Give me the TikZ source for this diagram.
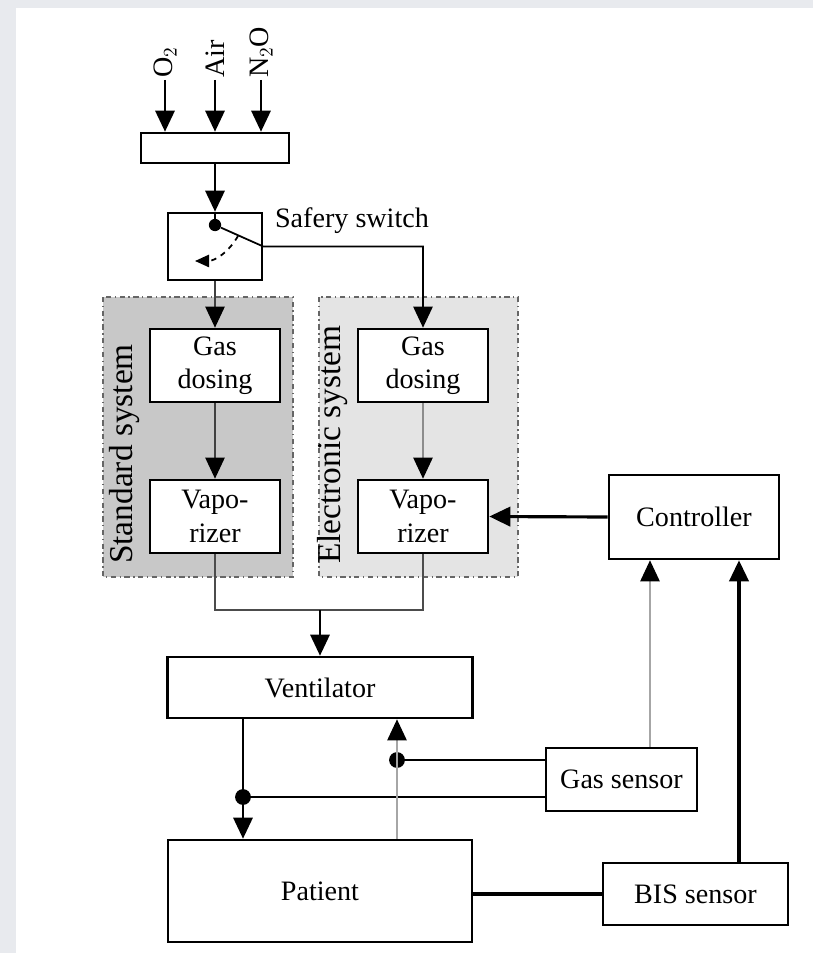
\documentclass[tikz,border=0pt]{standalone}
\usepackage{fontspec}
\setmainfont{Liberation Serif}
\usetikzlibrary{arrows.meta,calc}
\definecolor{bggray}{RGB}{232,234,238}
\definecolor{stdgray}{RGB}{200,200,200}
\definecolor{elegray}{RGB}{228,228,228}
\tikzstyle{block}=[draw,line width=1.5pt,fill=white,align=center,inner sep=0pt,font=\fontsize{16}{19}\selectfont]
\tikzstyle{label}=[font=\fontsize{16}{19}\selectfont,inner sep=1pt]
\tikzstyle{flow}=[draw,line width=1.3pt,-{Triangle[length=12pt,width=11pt]}]
\tikzstyle{thinflow}=[draw,line width=0.9pt,black!75,-{Triangle[length=12pt,width=11pt,color=black]}]
\tikzstyle{grayflow}=[draw,line width=1pt,black!35,-{Triangle[length=12pt,width=11pt,color=black]}]
\tikzstyle{wire}=[draw,line width=1.2pt]
\tikzstyle{region}=[draw=black!60,line width=0.8pt,dash dot]
\tikzstyle{joint}=[circle,fill=black,inner sep=0pt,minimum size=9pt]

\begin{document}
\begin{tikzpicture}[x=0.02cm,y=-0.02cm]

% frame
\fill[bggray] (0,0) rectangle (813,953);
\fill[white] (16,8) rectangle (813,953);

% the two systems
\filldraw[region,fill=stdgray] (103,297) rectangle (293,577);
\filldraw[region,fill=elegray] (319,297) rectangle (518,577);
\node[label,rotate=90,anchor=west,font=\fontsize{19}{21}\selectfont] (stdlab) at (125,566) {Standard system};
\node[label,rotate=90,anchor=west,font=\fontsize{19}{21}\selectfont] (elelab) at (333,566) {Electronic system};

% blocks
\node[block,minimum width=2.96cm,minimum height=0.6cm] (mix) at (215,148) {};
\node[block,minimum width=1.88cm,minimum height=1.34cm] (sw) at (215,246.5) {};
\node[label,anchor=west] (swlab) at (273,221) {Safery switch};

\foreach \pos/\name/\txt in {{(215,365.5)/gd1/{Gas\\dosing}}, {(215,516.5)/vp1/{Vapo-\\rizer}},
                              {(423,365.5)/gd2/{Gas\\dosing}}, {(423,516.5)/vp2/{Vapo-\\rizer}}}
    \node[block,minimum width=2.6cm,minimum height=1.46cm] (\name) at \pos {\txt};

\node[block,minimum width=6.1cm,minimum height=1.22cm] (vent) at (320,687.5) {Ventilator};
\node[block,minimum width=6.08cm,minimum height=2.04cm] (pat) at (320,891) {Patient};
\node[block,minimum width=3.4cm,minimum height=1.68cm] (ctrl) at (694,517) {Controller};
\node[block,minimum width=3.02cm,minimum height=1.26cm] (gs) at (621.5,779.5) {Gas sensor};
\node[block,minimum width=3.7cm,minimum height=1.24cm] (bis) at (695.5,894) {BIS sensor};

% gases in
\foreach \xx/\name/\gas in {165/oxy/O$_2$, 215/air/Air, 261/nno/N$_2$O} {
    \node[label,rotate=90,anchor=west] (\name) at (\xx,80) {\gas};
    \path[flow] (\name.west) -- (\name.west |- mix.north);
}
\path[flow] (mix.south) -- (sw.north);

% switch
\node[joint,minimum size=7pt] (pivot) at (215,225) {};
\draw[wire] (sw.north) -- (pivot);
\path[flow,line width=1pt] (pivot) -- (sw.east) -| (gd2.north);
\coordinate (swa) at (238,236);
\coordinate (swb) at (195,261);
\draw[dashed,line width=1pt,-{Triangle[length=8pt,width=7pt]}] (swa) to[bend left=30] (swb);
\path[thinflow] (sw.south) -- (gd1.north);

% dosing to vaporizer
\path[thinflow] (gd1) -- (vp1);
\path[thinflow,black!45] (gd2) -- (vp2);

% to ventilator
\coordinate (mrg) at (320,610);
\draw[line width=0.9pt,black!70] (vp1.south) |- (mrg) -| (vp2.south);
\path[flow] (mrg) -- (vent.north);

% control loop
\path[flow,line width=1.8pt] (ctrl.west) -- (vp2.east);
\coordinate (gsup) at ([xshift=0.57cm]gs.north);
\path[grayflow] (gsup) -- (gsup |- ctrl.south);
\coordinate (bisup) at ([xshift=0.87cm]bis.north);
\path[flow,line width=1.8pt] (bisup) -- (bisup |- ctrl.south);
\draw[line width=1.8pt] (bis.west -| pat.east) -- (bis.west);

% sensor lines
\node[joint] (d1) at (397,760) {};
\node[joint] (d2) at (243,797) {};
\draw[wire] (gs.west |- d1) -- (d1);
\draw[wire] (gs.west |- d2) -- (d2);
\path[flow] (vent.south -| d2) -- (pat.north -| d2);
\path[grayflow] (pat.north -| d1) -- (vent.south -| d1);

\end{tikzpicture}
\end{document}
